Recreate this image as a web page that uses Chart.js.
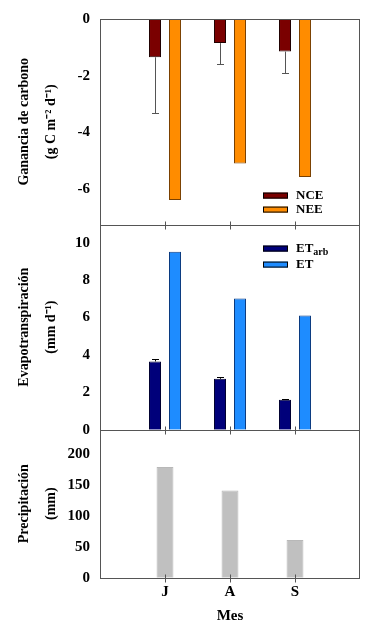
<!DOCTYPE html>
<html><head><meta charset="utf-8">
<script src="https://cdn.jsdelivr.net/npm/chart.js@4/dist/chart.umd.min.js"></script>
<style>html,body{margin:0;padding:0;background:#fff}#wrap{width:375px;height:635px;position:relative}</style>
</head><body><div id="wrap"><canvas id="c" width="375" height="635"></canvas></div>
<script>
const months = ['J', 'A', 'S'];
const nce = [-1.35, -0.85, -1.15];
const nceErr = [1.95, 0.75, 0.75];
const nee = [-6.38, -5.1, -5.57];
const etArb = [3.65, 2.72, 1.6];
const etArbErr = [0.15, 0.1, 0.05];
const et = [9.52, 7.02, 6.11];
const precip = [179.5, 141.5, 61];
const carbonTicks = [0, -2, -4, -6];
const etTicks = [0, 2, 4, 6, 8, 10];
const precipTicks = [0, 50, 100, 150, 200];

const FAM = "'Liberation Serif', 'Times New Roman', serif";
const COL = {nce:'#7a0000', nee:'#ff8c00', etArb:'#00007a', et:'#1e8cff', precip:'#c0c0c0'};
const pad = a => [null, ...a, null];
const labels = ['', ...months, ''];
const tickFont = {family: FAM, size: 15, weight: 'bold'};
const titleFont = {family: FAM, size: 14, weight: 'bold', lineHeight: 1.95};

function yAxis(min, max, ticks, weight, sw, title) {
  return {
    type: 'linear', position: 'left', stack: 'panels', stackWeight: sw, weight: weight,
    min: min, max: max, stacked: false,
    grid: {display: false, drawTicks: false}, border: {display: false},
    ticks: {font: tickFont, color: '#000', padding: 10, autoSkip: false},
    afterBuildTicks: s => { s.ticks = ticks.map(v => ({value: v})); },
    afterFit: s => { s.width = 100; },
    title: {display: true, text: title, font: titleFont, color: '#000', padding: {top: 10.5, bottom: 0}}
  };
}

const framePlugin = {
  id: 'frame',
  afterDatasetsDraw(chart) {
    const ctx = chart.ctx, ca = chart.chartArea, xs = chart.scales.x;
    ctx.save();
    ctx.strokeStyle = '#555'; ctx.lineWidth = 1;
    ['yC', 'yE', 'yP'].forEach(id => {
      const s = chart.scales[id];
      ctx.strokeRect(Math.round(ca.left) + 0.5, Math.round(s.top) + 0.5, Math.round(ca.width) - 1, Math.round(s.bottom - s.top));
      for (let i = 1; i <= months.length; i++) {
        const x = Math.round(xs.getPixelForValue(i)) + 0.5;
        const yb = Math.round(s.bottom) + 0.5;
        ctx.beginPath(); ctx.moveTo(x, yb - 4); ctx.lineTo(x, yb + 4); ctx.stroke();
      }
    });
    // error bars
    const drawErr = (dsIndex, vals, errs, dir, color, cap) => {
      const meta = chart.getDatasetMeta(dsIndex);
      const ys = chart.scales[meta.yAxisID];
      ctx.strokeStyle = color;
      vals.forEach((v, j) => {
        const el = meta.data[j + 1];
        const x = Math.round(el.x) + 0.5;
        const y0 = el.y;
        const y1 = Math.round(ys.getPixelForValue(v + dir * errs[j])) + 0.5;
        ctx.beginPath(); ctx.moveTo(x, y0); ctx.lineTo(x, y1);
        ctx.moveTo(x - cap, y1); ctx.lineTo(x + cap, y1); ctx.stroke();
      });
    };
    drawErr(0, nce, nceErr, -1, '#555', 3.5);
    drawErr(2, etArb, etArbErr, 1, '#000', 3.5);
    // legends
    const sw = (x, y, c) => {
      ctx.fillStyle = c; ctx.fillRect(x, y - 3, 25, 6);
      ctx.strokeStyle = '#000'; ctx.strokeRect(x + 0.5, y - 2.5, 24, 5);
    };
    ctx.fillStyle = '#000'; ctx.textBaseline = 'middle'; ctx.textAlign = 'left';
    const lx = ca.left + 163, tx = ca.left + 196;
    const yC = chart.scales.yC, yE = chart.scales.yE;
    const txt = (t, x, y, size) => { ctx.fillStyle = '#000'; ctx.font = 'bold ' + size + 'px ' + FAM; ctx.fillText(t, x, y); return ctx.measureText(t).width; };
    sw(lx, yC.bottom - 29, COL.nce); txt('NCE', tx, yC.bottom - 29, 13);
    sw(lx, yC.bottom - 15, COL.nee); txt('NEE', tx, yC.bottom - 15, 13);
    sw(lx, yE.top + 24, COL.etArb);
    const w = txt('ET', tx, yE.top + 24, 13); txt('arb', tx + w, yE.top + 28, 10);
    sw(lx, yE.top + 40, COL.et); txt('ET', tx, yE.top + 40, 13);
    ctx.restore();
  }
};

new Chart(document.getElementById('c'), {
  type: 'bar',
  data: {
    labels: labels,
    datasets: [
      {label: 'NCE', data: pad(nce), yAxisID: 'yC', stack: 'a', backgroundColor: COL.nce, borderColor: '#200000', borderWidth: 1, categoryPercentage: 0.615, barPercentage: 0.6},
      {label: 'NEE', data: pad(nee), yAxisID: 'yC', stack: 'b', backgroundColor: COL.nee, borderColor: '#7a4000', borderWidth: 1, categoryPercentage: 0.615, barPercentage: 0.6},
      {label: 'ETarb', data: pad(etArb), yAxisID: 'yE', stack: 'a', backgroundColor: COL.etArb, borderColor: '#000030', borderWidth: 1, categoryPercentage: 0.615, barPercentage: 0.6},
      {label: 'ET', data: pad(et), yAxisID: 'yE', stack: 'b', backgroundColor: COL.et, borderColor: '#0a3a80', borderWidth: 1, categoryPercentage: 0.615, barPercentage: 0.6},
      {label: 'Precipitación', data: pad(precip), yAxisID: 'yP', grouped: false, backgroundColor: COL.precip, borderColor: '#b8b8b8', borderWidth: 1, categoryPercentage: 0.4, barPercentage: 0.65}
    ]
  },
  options: {
    responsive: false, animation: false,
    layout: {padding: {top: 16.5, right: 15, bottom: 0, left: 0}},
    plugins: {legend: {display: false}, tooltip: {enabled: false}},
    scales: {
      x: {
        offset: false, grid: {display: false, drawTicks: false}, border: {display: false},
        ticks: {font: tickFont, color: '#000', padding: 5, autoSkip: false, maxRotation: 0},
        title: {display: true, text: 'Mes', font: {family: FAM, size: 15, weight: 'bold'}, color: '#000', padding: {top: 0, bottom: 10}},
        afterFit: s => { s.height = 57.3; }
      },
      yC: yAxis(-7.25, 0, carbonTicks, 3, 206.5, ['Ganancia de carbono', '(g C m\u207B\u00B2 d\u207B\u00B9)']),
      yE: yAxis(0, 10.97, etTicks, 2, 206, ['Evapotranspiración', '(mm d\u207B\u00B9)']),
      yP: yAxis(0, 240, precipTicks, 1, 148.7, ['Precipitación', '(mm)'])
    }
  },
  plugins: [framePlugin]
});
</script></body></html>
